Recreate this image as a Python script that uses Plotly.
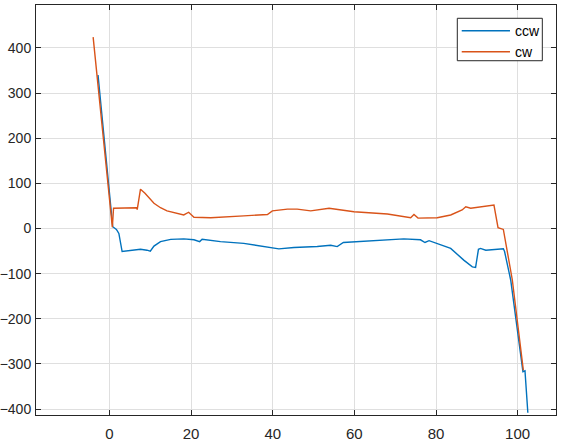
import plotly.graph_objects as go

# ccw series (blue)
ccw_x = [-2.8, 0.8, 1.7, 2.3, 3.1, 4.3, 7.6, 9.2, 10.0, 10.9, 12.5, 15.0, 18.2, 20.7, 22.1, 22.7,
         27.2, 32.9, 38.7, 41.5, 45.2, 50.9, 54.2, 55.8, 57.3, 64.0, 72.1, 76.2, 77.3, 78.3, 81.0,
         83.6, 86.8, 88.9, 89.7, 90.4, 90.9, 92.2, 96.5, 96.8, 98.3, 101.3, 101.8, 102.5]
ccw_y = [340, 4, -2, -11, -51, -50, -46, -48, -50, -39, -29, -24, -23, -25, -29, -24,
         -29, -33, -40, -45, -42, -40, -37, -40, -31, -27, -23, -25, -31, -27, -35,
         -44, -70, -85, -86, -46, -44, -48, -45, -51, -114, -317, -315, -408]

# cw series (orange)
cw_x = [-4.0, 0.7, 1.0, 6.6, 6.8, 7.6, 8.7, 10.9, 12.5, 14.1, 18.2, 19.4, 20.7, 24.8, 32.9, 38.7,
        39.9, 43.6, 46.0, 49.3, 53.8, 59.9, 68.1, 73.8, 74.6, 75.6, 80.3, 83.6, 86.4, 87.3,
        88.5, 94.2, 95.2, 96.5, 98.7, 101.4]
cw_y = [424, 3, 45, 46, 42, 87, 78, 56, 46, 39, 30, 36, 25, 24, 28, 31,
        39, 43, 43, 39, 45, 37, 32, 24, 31, 23, 24, 30, 41, 48,
        45, 52, 2, -2, -114, -314]

series_names = ["ccw", "cw"]
series_colors = ["#0072BD", "#D95319"]

x_ticks = [0, 20, 40, 60, 80, 100]
y_ticks = [-400, -300, -200, -100, 0, 100, 200, 300, 400]

FONT = "Liberation Sans, Arial, sans-serif"

fig = go.Figure()
for name, xs, ys, col in zip(series_names, [ccw_x, cw_x], [ccw_y, cw_y], series_colors):
    fig.add_trace(go.Scatter(x=xs, y=ys, mode="lines", name=name, showlegend=False,
                             line=dict(color=col, width=1.4)))

axis_common = dict(
    showgrid=True, gridcolor="#dfdfdf", gridwidth=1,
    showline=True, linecolor="#262626", linewidth=1, mirror="ticks",
    ticks="inside", ticklen=5, tickcolor="#262626",
    zeroline=False, automargin=False,
)

fig.update_xaxes(range=[-18.0, 109.4], tickvals=x_ticks, ticklabelstandoff=5,
                 tickfont=dict(family=FONT, size=15, color="#262626"), **axis_common)
fig.update_yaxes(range=[-413, 495], tickvals=y_ticks, ticklabelstandoff=1,
                 tickfont=dict(family=FONT, size=14, color="#262626"), **axis_common)

# Legend box (MATLAB-style), drawn in paper coordinates
box_x0, box_x1, box_y0, box_y1 = 0.8102, 0.9737, 0.8641, 0.9676
fig.add_shape(type="rect", xref="paper", yref="paper",
              x0=box_x0, x1=box_x1, y0=box_y0, y1=box_y1,
              line=dict(color="#262626", width=1), fillcolor="white", layer="above")
row_y = [0.9373, 0.8861]
for name, col, yy in zip(series_names, series_colors, row_y):
    fig.add_shape(type="line", xref="paper", yref="paper",
                  x0=0.8187, x1=0.9115, y0=yy, y1=yy,
                  line=dict(color=col, width=1.4), layer="above")
    fig.add_annotation(xref="paper", yref="paper", x=0.9167, y=yy, text=name,
                       showarrow=False, xanchor="left", yanchor="middle",
                       font=dict(family=FONT, size=14, color="#000000"))

fig.update_layout(
    width=563, height=443,
    margin=dict(l=36, r=7, t=5, b=28, autoexpand=False),
    plot_bgcolor="white", paper_bgcolor="white",
    font=dict(family=FONT, color="#262626"),
    showlegend=False,
)

fig.write_html("out.html", config={"displayModeBar": False},
               post_script="document.body.style.margin='0';")
